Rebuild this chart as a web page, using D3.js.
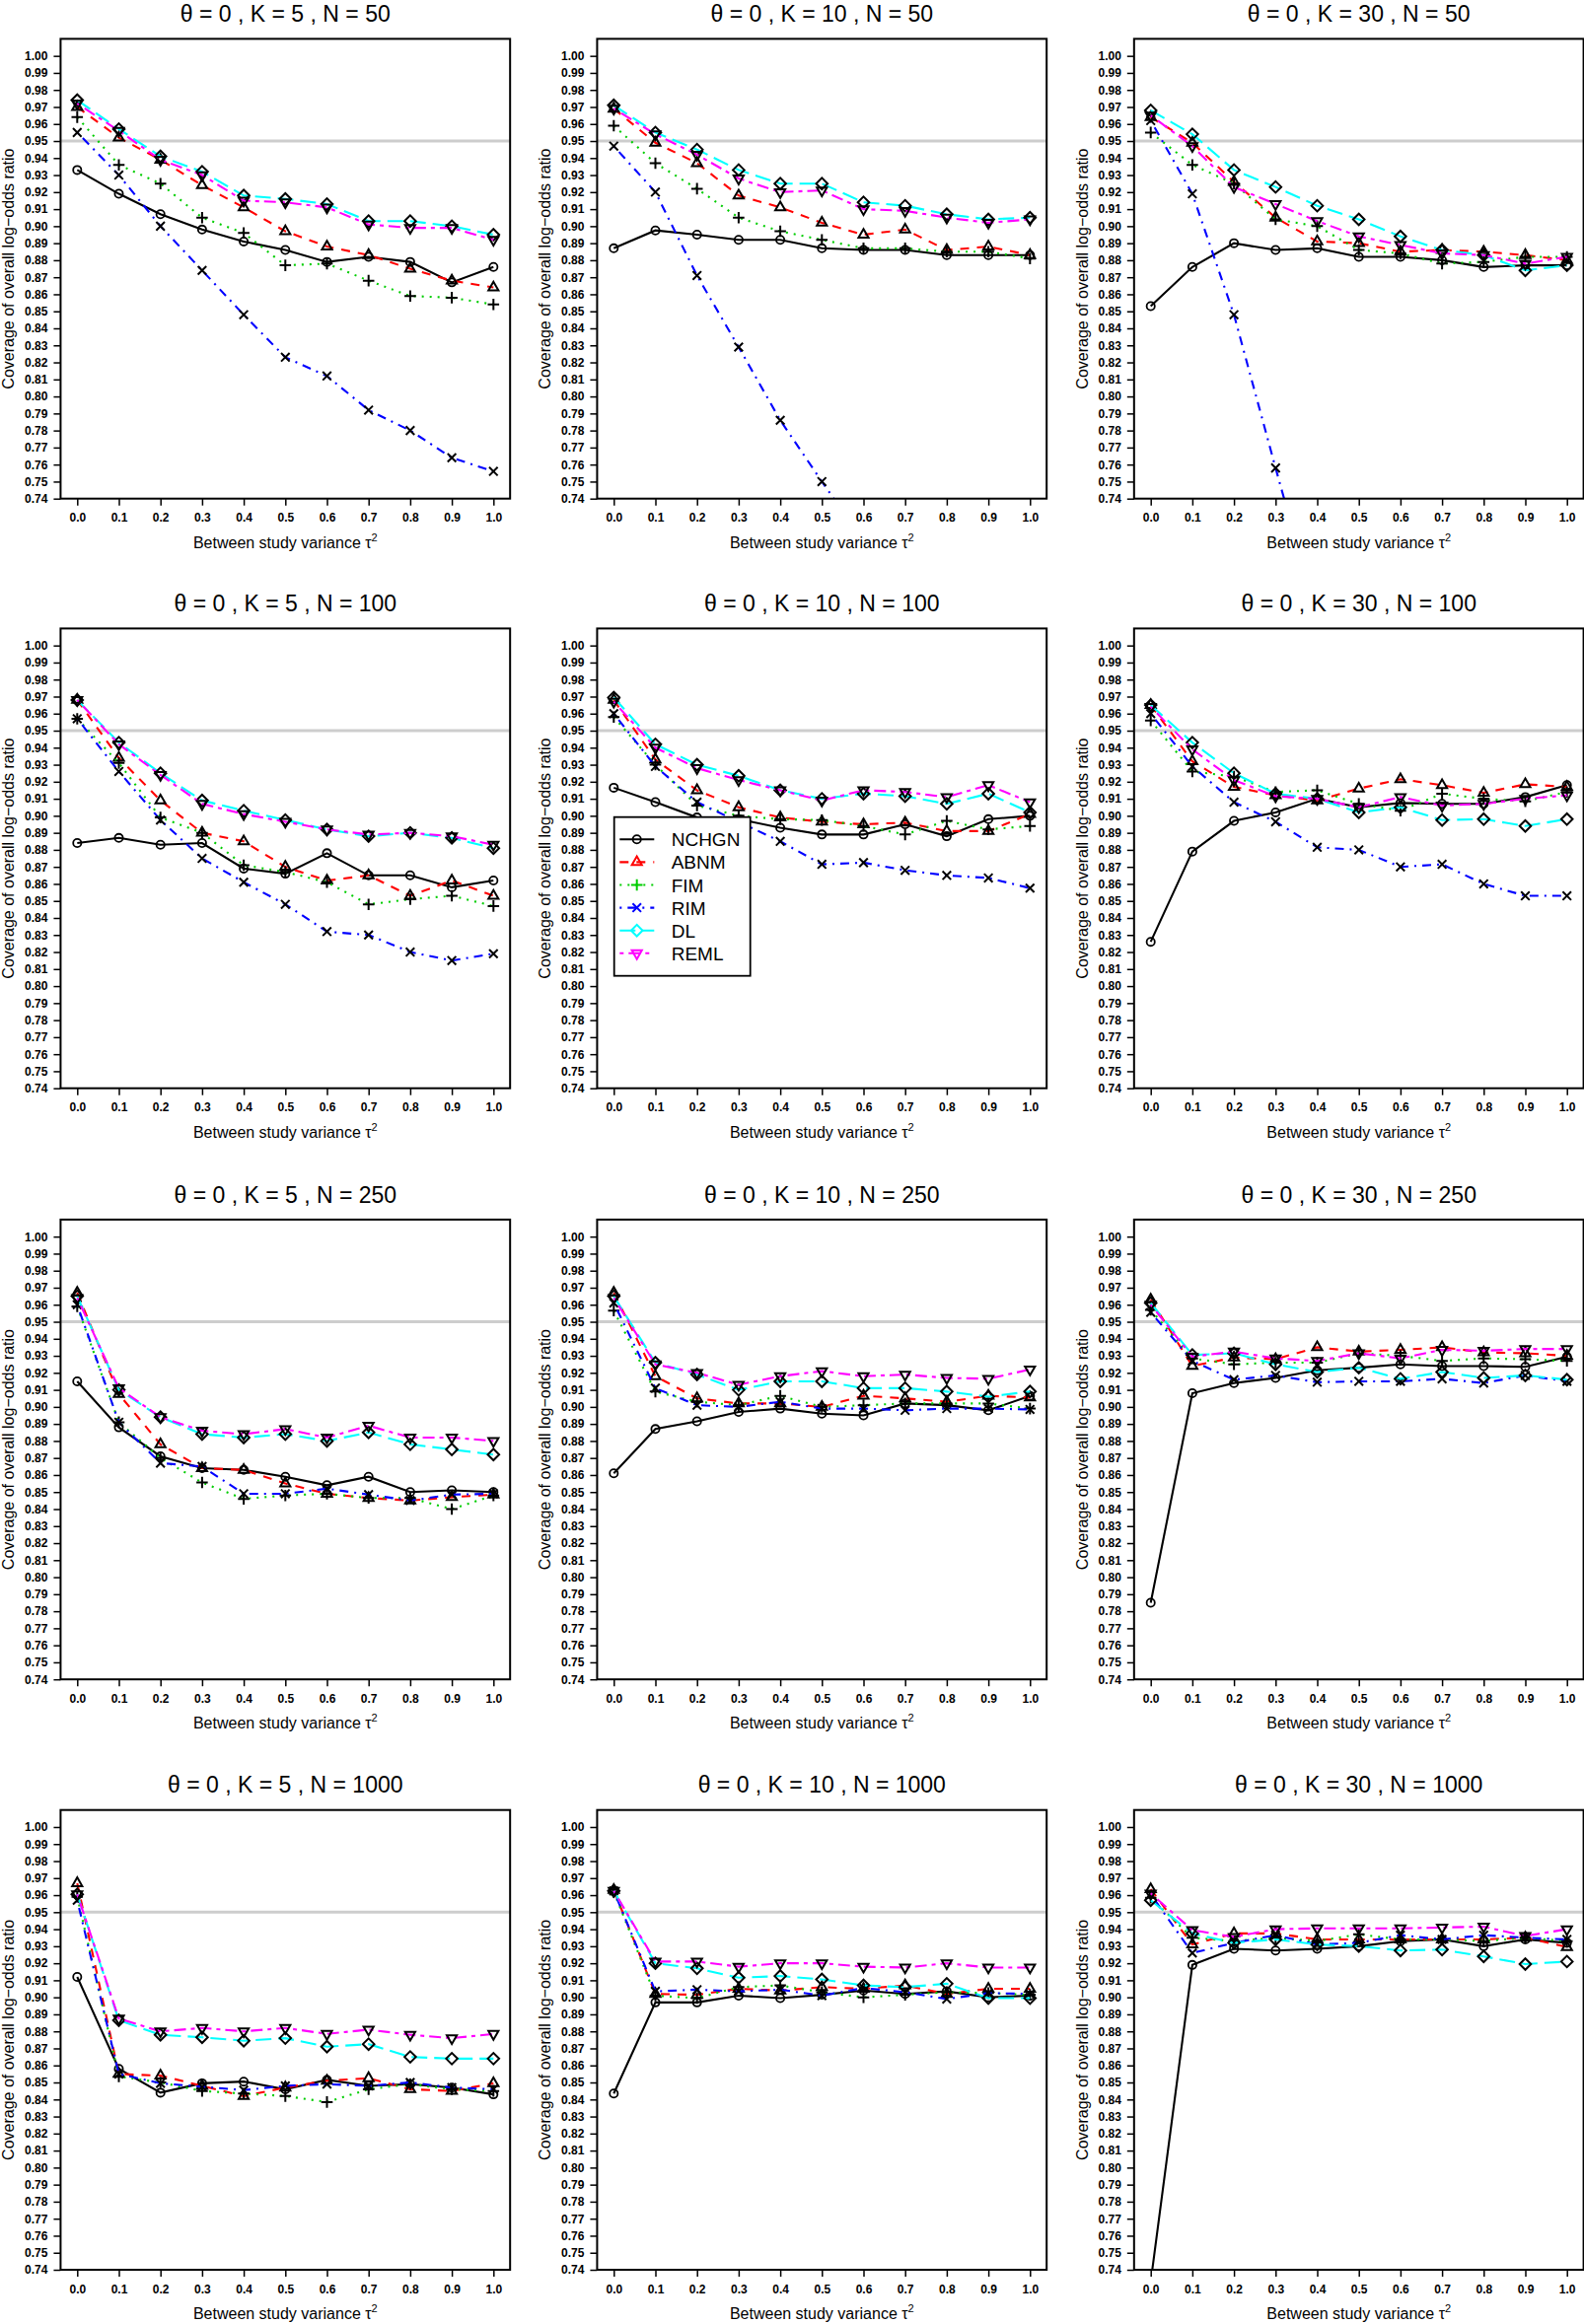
<!DOCTYPE html>
<html><head><meta charset="utf-8">
<script src="https://cdn.jsdelivr.net/npm/d3@7"></script>
<style>
body{margin:0;background:#fff}
svg{display:block}
text{font-family:"Liberation Sans",Arial,Helvetica,sans-serif;fill:#000}
</style></head>
<body><svg id="chart" width="1606" height="2357"></svg>
<script>
// ---------------- data ----------------
const tau = [0.0,0.1,0.2,0.3,0.4,0.5,0.6,0.7,0.8,0.9,1.0];
const xTickLabels = ["0.0","0.1","0.2","0.3","0.4","0.5","0.6","0.7","0.8","0.9","1.0"];
const yTickLabels = ["0.74","0.75","0.76","0.77","0.78","0.79","0.80","0.81","0.82","0.83","0.84","0.85","0.86","0.87","0.88","0.89","0.90","0.91","0.92","0.93","0.94","0.95","0.96","0.97","0.98","0.99","1.00"];
const seriesNames = ["NCHGN","ABNM","FIM","RIM","DL","REML"];
const seriesColors = ["#000000","#ff0000","#00cd00","#0000ff","#00ffff","#ff00ff"];
const Ks = [5,10,30];
const Ns = [50,100,250,1000];
const nominal = 0.95;

// each panel: [NCHGN, ABNM, FIM, RIM, DL, REML]
const K5_N50 = [
 [0.933,0.919,0.907,0.898,0.891,0.886,0.879,0.882,0.879,0.867,0.876],
 [0.970,0.952,0.939,0.924,0.911,0.897,0.888,0.883,0.875,0.868,0.864],
 [0.964,0.936,0.925,0.905,0.896,0.877,0.878,0.868,0.859,0.858,0.854],
 [0.955,0.930,0.900,0.874,0.848,0.823,0.812,0.792,0.780,0.764,0.756],
 [0.974,0.957,0.941,0.932,0.918,0.916,0.913,0.903,0.903,0.900,0.895],
 [0.972,0.956,0.939,0.930,0.915,0.914,0.911,0.901,0.899,0.899,0.892]];
const K10_N50 = [
 [0.887,0.8975,0.895,0.892,0.892,0.887,0.886,0.886,0.883,0.883,0.883],
 [0.969,0.949,0.937,0.918,0.911,0.902,0.895,0.898,0.886,0.888,0.883],
 [0.959,0.937,0.922,0.905,0.897,0.892,0.887,0.887,0.885,0.885,0.881],
 [0.947,0.920,0.871,0.829,0.786,0.750,0.715,null,null,null,null],
 [0.971,0.955,0.945,0.933,0.925,0.925,0.914,0.912,0.907,0.904,0.905],
 [0.969,0.954,0.942,0.928,0.920,0.921,0.910,0.909,0.905,0.902,0.904]];
const K30_N50 = [
 [0.853,0.876,0.890,0.886,0.887,0.882,0.882,0.880,0.876,0.877,0.877],
 [0.964,0.949,0.926,0.905,0.891,0.890,0.885,0.886,0.885,0.883,0.880],
 [0.955,0.936,0.925,0.904,0.900,0.886,0.884,0.878,0.879,0.882,0.882],
 [0.962,0.919,0.848,0.758,0.670,null,null,null,null,null,null],
 [0.968,0.954,0.933,0.923,0.912,0.904,0.894,0.886,0.883,0.874,0.877],
 [0.965,0.947,0.923,0.913,0.903,0.894,0.889,0.884,0.883,0.878,0.882]];
const K5_N100 = [
 [0.884,0.887,0.883,0.884,0.869,0.866,0.878,0.865,0.865,0.858,0.862],
 [0.968,0.934,0.909,0.890,0.885,0.870,0.862,0.865,0.853,0.862,0.853],
 [0.957,0.931,0.899,0.890,0.871,0.867,0.861,0.848,0.851,0.853,0.847],
 [0.957,0.926,0.8975,0.875,0.861,0.848,0.832,0.830,0.820,0.815,0.819],
 [0.968,0.943,0.925,0.909,0.903,0.8975,0.892,0.888,0.890,0.887,0.881],
 [0.968,0.942,0.924,0.907,0.901,0.8965,0.892,0.889,0.890,0.888,0.883]];
const K10_N100 = [
 [0.9165,0.908,0.899,0.898,0.893,0.889,0.889,0.895,0.888,0.898,0.900],
 [0.968,0.933,0.915,0.905,0.899,0.8965,0.895,0.896,0.891,0.891,0.901],
 [0.958,0.930,0.906,0.900,0.898,0.8975,0.894,0.889,0.897,0.892,0.894],
 [0.960,0.929,0.908,0.8965,0.885,0.8715,0.8725,0.868,0.865,0.8635,0.8575],
 [0.9695,0.942,0.930,0.9235,0.915,0.910,0.913,0.9115,0.907,0.913,0.902],
 [0.967,0.940,0.928,0.921,0.915,0.909,0.915,0.914,0.911,0.918,0.908]];
const K30_N100 = [
 [0.826,0.879,0.897,0.902,0.910,0.905,0.9075,0.907,0.907,0.911,0.918],
 [0.965,0.932,0.917,0.912,0.909,0.916,0.9215,0.918,0.9135,0.9185,0.917],
 [0.956,0.926,0.923,0.914,0.915,0.907,0.903,0.913,0.910,0.9085,0.914],
 [0.960,0.929,0.908,0.8965,0.8815,0.880,0.870,0.8715,0.860,0.853,0.853],
 [0.965,0.943,0.925,0.913,0.910,0.902,0.905,0.8975,0.898,0.894,0.898],
 [0.964,0.939,0.921,0.9115,0.910,0.905,0.911,0.906,0.907,0.910,0.912]];
const K5_N250 = [
 [0.915,0.888,0.871,0.864,0.863,0.859,0.854,0.859,0.850,0.851,0.850],
 [0.967,0.9075,0.878,0.864,0.863,0.855,0.849,0.8465,0.845,0.847,0.8485],
 [0.959,0.891,0.870,0.8556,0.846,0.848,0.849,0.8465,0.8465,0.840,0.848],
 [0.960,0.891,0.867,0.865,0.849,0.849,0.852,0.8485,0.845,0.8485,0.849],
 [0.965,0.910,0.894,0.884,0.882,0.884,0.880,0.885,0.878,0.875,0.872],
 [0.964,0.911,0.894,0.886,0.884,0.887,0.882,0.889,0.882,0.882,0.880]];
const K10_N250 = [
 [0.861,0.887,0.8915,0.897,0.899,0.896,0.895,0.902,0.901,0.898,0.9065],
 [0.967,0.918,0.905,0.902,0.902,0.900,0.9065,0.905,0.903,0.9065,0.9055],
 [0.9565,0.909,0.903,0.901,0.9065,0.900,0.901,0.902,0.902,0.902,0.899],
 [0.961,0.911,0.901,0.900,0.903,0.899,0.899,0.898,0.899,0.899,0.8985],
 [0.965,0.926,0.919,0.910,0.915,0.915,0.911,0.911,0.909,0.906,0.909],
 [0.964,0.925,0.920,0.913,0.918,0.921,0.918,0.919,0.917,0.9165,0.922]];
const K30_N250 = [
 [0.785,0.908,0.914,0.917,0.9215,0.923,0.925,0.924,0.924,0.9235,0.9295],
 [0.963,0.924,0.929,0.928,0.935,0.9325,0.9335,0.935,0.932,0.9315,0.930],
 [0.957,0.9285,0.925,0.926,0.926,0.9315,0.930,0.927,0.9285,0.928,0.927],
 [0.9555,0.927,0.916,0.9185,0.9145,0.915,0.915,0.9165,0.914,0.9185,0.915],
 [0.961,0.9305,0.9315,0.925,0.9205,0.923,0.9165,0.9205,0.917,0.9185,0.916],
 [0.960,0.9295,0.9325,0.9285,0.927,0.9315,0.9285,0.9335,0.933,0.934,0.934]];
const K5_N1000 = [
 [0.912,0.858,0.844,0.8495,0.8505,0.846,0.8515,0.848,0.849,0.847,0.843],
 [0.967,0.855,0.854,0.848,0.842,0.847,0.851,0.8525,0.846,0.845,0.8495],
 [0.959,0.8535,0.850,0.845,0.8435,0.842,0.8385,0.846,0.849,0.846,0.845],
 [0.957,0.855,0.8495,0.8475,0.8455,0.848,0.849,0.848,0.850,0.847,0.846],
 [0.9605,0.8865,0.878,0.8765,0.8745,0.876,0.871,0.8725,0.865,0.864,0.864],
 [0.9605,0.8875,0.880,0.882,0.880,0.882,0.8785,0.881,0.878,0.876,0.8785]];
const K10_N1000 = [
 [0.8435,0.897,0.897,0.901,0.8995,0.9015,0.904,0.902,0.9035,0.900,0.901],
 [0.963,0.902,0.9015,0.905,0.904,0.906,0.905,0.907,0.902,0.905,0.905],
 [0.962,0.901,0.8995,0.906,0.907,0.903,0.900,0.9015,0.903,0.9025,0.9015],
 [0.9625,0.9035,0.9045,0.9035,0.9045,0.901,0.9055,0.903,0.899,0.9025,0.902],
 [0.9625,0.920,0.917,0.9115,0.9125,0.9105,0.907,0.906,0.908,0.8995,0.8995],
 [0.9625,0.921,0.921,0.918,0.920,0.920,0.918,0.9175,0.920,0.9175,0.9175]];
const K30_N1000 = [
 [0.733,0.919,0.9285,0.9275,0.9285,0.930,0.933,0.934,0.930,0.934,0.932],
 [0.9635,0.931,0.9375,0.9375,0.934,0.934,0.934,0.934,0.934,0.935,0.9295],
 [0.9585,0.935,0.933,0.935,0.933,0.937,0.934,0.934,0.933,0.935,0.933],
 [0.9605,0.926,0.932,0.9365,0.931,0.932,0.9365,0.934,0.9365,0.935,0.934],
 [0.957,0.9375,0.932,0.934,0.931,0.930,0.9275,0.928,0.924,0.9195,0.921],
 [0.961,0.9395,0.9355,0.940,0.9405,0.9405,0.9405,0.941,0.9415,0.936,0.940]];

const panelData = [
 [K5_N50, K10_N50, K30_N50],
 [K5_N100, K10_N100, K30_N100],
 [K5_N250, K10_N250, K30_N250],
 [K5_N1000, K10_N1000, K30_N1000]];

// ---------------- styles / layout ----------------
const dashes = [null, "9,8", "2,6", "2,6,9,6", "16,7", "4,5,12,5"];
const colX0 = [78.3, 622.3, 1166.7];
const rowOff = [0, 598, 1197.5, 1796.3];
const xSpan = 422;
const yBot = 505.7, yTop = 39.4;
const S = 4.1; // symbol base radius

function symbolPath(i){
  const s = S;
  switch(i){
    case 0: return null;
    case 1: { const r=1.555*s*0.92, xc=0.866*r, yc=0.5*r; return `M0,${-r}L${xc},${yc}L${-xc},${yc}Z`; }
    case 2: { const h=1.414*s; return `M${-h},0H${h}M0,${-h}V${h}`; }
    case 3: { const h=s*1.05; return `M${-h},${-h}L${h},${h}M${-h},${h}L${h},${-h}`; }
    case 4: { const h=1.414*s; return `M${-h},0L0,${-h}L${h},0L0,${h}Z`; }
    case 5: { const r=1.555*s*0.92, xc=0.866*r, yc=0.5*r; return `M0,${r}L${xc},${-yc}L${-xc},${-yc}Z`; }
  }
}
function drawSymbol(g, i, cx, cy, color){
  if(i===0){
    g.append("circle").attr("cx",cx).attr("cy",cy).attr("r",S)
      .attr("fill","none").attr("stroke",color).attr("stroke-width",1.8);
  } else {
    g.append("path").attr("d",symbolPath(i)).attr("transform",`translate(${cx},${cy})`)
      .attr("fill","none").attr("stroke",color).attr("stroke-width",2);
  }
}

const svg = d3.select("#chart");
svg.append("rect").attr("width",1606).attr("height",2357).attr("fill","#fff");

Ns.forEach((N, r) => {
  Ks.forEach((K, c) => {
    const off = rowOff[r];
    const x = d3.scaleLinear().domain([0,1]).range([colX0[c], colX0[c]+xSpan]);
    const y = d3.scaleLinear().domain([0.74,1.01]).range([off+yBot, off+yTop]);
    const left = x(-0.04), right = x(1.04), top = y(1.01), bottom = y(0.74);
    const g = svg.append("g");
    const cid = `clip-${r}-${c}`;
    svg.append("clipPath").attr("id",cid).append("rect")
      .attr("x",left).attr("y",top).attr("width",right-left).attr("height",bottom-top);

    // title
    g.append("text").attr("x",(left+right)/2).attr("y",off+22)
      .attr("text-anchor","middle").attr("font-size",23)
      .text(`θ = 0 , K = ${K} , N = ${N}`);

    // y axis
    const yAxis = d3.axisLeft(y).tickValues(yTickLabels.map(Number))
      .tickFormat((d,i)=>yTickLabels[i]).tickSize(7).tickPadding(6);
    const ya = g.append("g").attr("transform",`translate(${left},0)`).call(yAxis);
    ya.select(".domain").remove();
    ya.selectAll("line").attr("stroke","#000").attr("stroke-width",1.5);
    ya.selectAll("text").attr("font-size",12).attr("font-weight","bold")
      .attr("font-family","'Liberation Sans',Arial,sans-serif");

    // x axis
    const xAxis = d3.axisBottom(x).tickValues(tau)
      .tickFormat((d,i)=>xTickLabels[i]).tickSize(7).tickPadding(8);
    const xa = g.append("g").attr("transform",`translate(0,${bottom})`).call(xAxis);
    xa.select(".domain").remove();
    xa.selectAll("line").attr("stroke","#000").attr("stroke-width",1.5);
    xa.selectAll("text").attr("font-size",12).attr("font-weight","bold")
      .attr("font-family","'Liberation Sans',Arial,sans-serif");

    // axis titles
    const xt = g.append("text").attr("x",(left+right)/2).attr("y",bottom+50)
      .attr("text-anchor","middle").attr("font-size",16);
    xt.append("tspan").text("Between study variance τ");
    xt.append("tspan").attr("dy",-7).attr("font-size",11).text("2");
    g.append("text").attr("transform",`translate(${left-47},${(top+bottom)/2}) rotate(-90)`)
      .attr("text-anchor","middle").attr("font-size",16)
      .text("Coverage of overall log−odds ratio");

    // reference line
    g.append("line").attr("x1",left).attr("x2",right).attr("y1",y(nominal)).attr("y2",y(nominal))
      .attr("stroke","#cdcdcd").attr("stroke-width",3);

    // series
    const data = panelData[r][c];
    const plotG = g.append("g").attr("clip-path",`url(#${cid})`);
    const line = d3.line().defined(d=>d[1]!==null).x(d=>x(d[0])).y(d=>y(d[1]));
    data.forEach((vals, si) => {
      const pts = tau.map((t,j)=>[t, vals[j]]);
      plotG.append("path").attr("d",line(pts)).attr("fill","none")
        .attr("stroke",seriesColors[si]).attr("stroke-width",2.1)
        .attr("stroke-dasharray",dashes[si]);
      pts.filter(p=>p[1]!==null).forEach(p=>drawSymbol(plotG, si, x(p[0]), y(p[1]), "#000"));
    });

    // frame
    g.append("rect").attr("x",left).attr("y",top).attr("width",right-left).attr("height",bottom-top)
      .attr("fill","none").attr("stroke","#000").attr("stroke-width",2);

    // legend in panel K=10, N=100
    if(r===1 && c===1){
      const lg = g.append("g");
      const lx = 622.7, ly = 828.7, lw = 138, lh = 161;
      lg.append("rect").attr("x",lx).attr("y",ly).attr("width",lw).attr("height",lh)
        .attr("fill","#fff").attr("stroke","#000").attr("stroke-width",1.8);
      seriesNames.forEach((nm, si) => {
        const cy = ly + 22.6 + si*23.1;
        lg.append("line").attr("x1",lx+5.6).attr("x2",lx+40.6).attr("y1",cy).attr("y2",cy)
          .attr("stroke",seriesColors[si]).attr("stroke-width",2.1).attr("stroke-dasharray",dashes[si]);
        drawSymbol(lg, si, lx+23, cy, seriesColors[si]);
        lg.append("text").attr("x",lx+58).attr("y",cy+7).attr("font-size",19).text(nm);
      });
    }
  });
});
</script></body></html>
